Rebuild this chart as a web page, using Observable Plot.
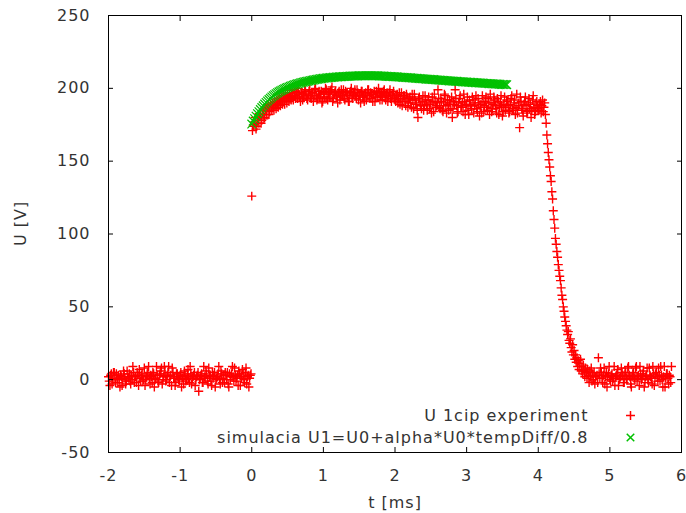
<!DOCTYPE html>
<html>
<head>
<meta charset="utf-8">
<script src="https://cdn.jsdelivr.net/npm/d3@7"></script>
<script src="https://cdn.jsdelivr.net/npm/@observablehq/plot@0.6"></script>
<style>
  html, body { margin: 0; padding: 0; background: #fff; }
  #chart { width: 686px; height: 513px; }
</style>
</head>
<body>
<div id="chart"></div>
<script>
// ---- axis ticks ----
const xTicks = [-2, -1, 0, 1, 2, 3, 4, 5, 6];
const yTicks = [-50, 0, 50, 100, 150, 200, 250];

// ---- legend labels ----
const seriesNames = ["U 1cip experiment", "simulacia U1=U0+alpha*U0*tempDiff/0.8"];

// ---- experiment (red +), sampled on a regular time grid ----
// baseline before the pulse, even samples: t = -2.00 .. -0.02, step 0.02 ms
const baseStart = -2.00, baseStep = 0.02;
const baseU = [
  2, -4, 4, 0, 5, -2, 1, 3, -5, 2,
  0, 4, -3, 6, 1, -1, 3, 9, -2, 2,
  5, -4, 1, 3, -1, 8, 0, 4, 9, -3,
  2, 5, -5, 1, 3, -2, 4, 8, 0, 9,
  -1, 3, 9, 2, -4, 5, 1, -2, 4, 0,
  3, -5, 2, 6, -1, 4, 1, 9, -3, 2,
  5, 0, 3, -8, 1, 4, -2, 2, 6, -1,
  8, 3, -4, 1, 5, 0, 2, 9, -3, 4,
  1, -2, 3, 5, -5, 0, 4, 2, 8, -1,
  3, 6, -4, 1, 4, -2, 8, 2, -5, 3
];
// baseline, odd samples: t = -1.99 .. -0.01, step 0.02 ms
const baseStart2 = -1.99;
const baseU2 = [
  -1, 3, -3, 5, 1, 4, -2, 0, 3, -4,
  6, 1, -1, 2, 4, -3, 0, 5, 2, -2,
  3, 7, -1, 4, 0, -4, 2, 5, 1, 3,
  -2, 4, 0, 9, -1, 3, 6, -3, 2, 4,
  0, 5, -2, 3, 8, 1, -4, 4, 2, -1,
  5, 1, -3, 3, 0, 7, -2, 4, 1, 3,
  -4, 2, 5, 0, 3, -2, 9, 1, 4, -3,
  2, -1, 5, 3, -5, 1, 4, 0, 6, -2,
  3, 5, 0, -3, 4, 2, 9, -1, 3, 1,
  -4, 4, 2, 7, 0, 5, -3, 3, 1, 4
];
// plateau, even samples: t = 0.00 .. 4.10, step 0.02 ms
const plateauStart = 0.00, plateauStep = 0.02;
const plateauU = [
  126,
  174, 177, 172, 179, 176, 182, 178, 185, 180, 184,
  187, 182, 189, 185, 188, 191, 186, 190, 193, 188,
  192, 195, 189, 193, 196, 191, 194, 197, 192, 195,
  198, 193, 196, 191, 197, 194, 199, 195, 192, 198,
  194, 197, 191, 199, 195, 193, 198, 196, 190, 197,
  194, 199, 192, 196, 198, 201, 193, 197, 195, 190,
  198, 194, 196, 199, 192, 197, 195, 191, 198, 194,
  196, 199, 193, 197, 195, 190, 198, 194, 196, 192,
  199, 195, 197, 193, 196, 191, 198, 194, 197, 195,
  192, 198, 194, 196, 191, 197, 193, 195, 198, 192,
  195, 190, 197, 193, 188, 195, 191, 196, 187, 193,
  190, 196, 186, 192, 189, 180, 194, 188, 191, 185,
  195, 189, 192, 186, 190, 194, 184, 191, 188, 199,
  187, 193, 185, 190, 195, 183, 189, 192, 186, 180,
  191, 199, 188, 184, 193, 187, 190, 196, 182, 189,
  185, 192, 188, 194, 183, 190, 186, 193, 181, 189,
  195, 184, 191, 187, 193, 182, 190, 186, 194, 188,
  183, 191, 187, 195, 181, 189, 185, 192, 188, 184,
  193, 186, 190, 182, 196, 188, 173, 191, 185, 189,
  194, 183, 190, 186, 180, 192, 187, 184, 191, 186,
  189, 183, 192, 187, 182
];
// plateau, odd samples: t = 0.01 .. 4.09, step 0.02 ms
const plateauStart2 = 0.01;
const plateauU2 = [
  171, 175, 180, 174, 178, 181, 176, 183, 179, 186,
  182, 188, 184, 187, 190, 185, 189, 192, 187, 191,
  194, 189, 192, 196, 190, 194, 197, 192, 195, 199,
  193, 196, 200, 194, 197, 192, 196, 198, 193, 196,
  199, 193, 197, 195, 200, 192, 196, 194, 198, 191,
  196, 200, 193, 197, 194, 199, 191, 196, 198, 194,
  197, 192, 199, 195, 193, 198, 196, 191, 197, 200,
  193, 197, 195, 199, 192, 196, 198, 194, 191, 197,
  195, 199, 193, 196, 191, 198, 194, 197, 200, 192,
  196, 194, 199, 192, 197, 195, 199, 191, 196, 194,
  191, 196, 193, 189, 197, 192, 195, 188, 194, 190,
  194, 187, 192, 196, 189, 185, 193, 190, 186, 195,
  188, 192, 185, 194, 189, 183, 191, 196, 187, 190,
  193, 186, 191, 184, 196, 188, 192, 185, 190, 194,
  186, 189, 193, 183, 190, 195, 187, 184, 191, 188,
  194, 182, 189, 186, 192, 188, 195, 184, 190, 187,
  183, 191, 188, 194, 185, 190, 196, 184, 189, 192,
  186, 193, 182, 190, 188, 184, 194, 187, 191, 183,
  189, 195, 185, 192, 187, 183, 190, 194, 186, 181,
  191, 188, 184, 193, 189, 185, 195, 182, 190, 188,
  185, 191, 188, 184, 190
];
// falling edge: t = 4.11 .. 4.80, step 0.01 ms
const fallStart = 4.11, fallStep = 0.01;
const fallU = [
  176, 168, 162, 156, 151, 146, 140, 136, 129, 124,
  116, 110, 104, 97, 93, 88, 84, 79, 75, 71,
  68, 63, 58, 55, 50, 47, 43, 40, 37, 34,
  31, 33, 27, 25, 28, 22, 19, 24, 17, 20,
  14, 17, 12, 15, 9, 13, 7, 11, 14, 6,
  9, 4, 10, 6, 2, 8, 5, 1, 7, 3,
  -2, 6, 2, 8, -1, 4, 0, 5, -3, 2
];
// tail after the pulse, even samples: t = 4.82 .. 5.86, step 0.02 ms
const tailStart = 4.82, tailStep = 0.02;
const tailU = [
  3, 15, 1, 5, -2, 8, 2, -5, 4, 0,
  3, -1, 9, 2, 4, -4, 1, 8, 3, -2,
  5, 0, 9, 2, -5, 4, 1, 8, -1, 3,
  9, 0, 4, -5, 2, 8, -2, 3, 1, 9,
  -4, 4, 2, 8, -1, 3, -5, 9, 1, 4,
  -3, 2, 9
];
// tail, odd samples: t = 4.83 .. 5.85, step 0.02 ms
const tailStart2 = 4.83;
const tailU2 = [
  -2, 4, 8, 1, 3, -3, 5, 2, 9, -1,
  4, 1, -4, 3, 7, 0, 2, 5, -2, 4,
  1, 8, 3, -3, 2, 5, 0, 9, 2, -4,
  4, 1, 6, -2, 3, 0, 8, 2, -3, 4,
  1, 5, -1, 3, 9, 0, 2, -5, 4, 1,
  3, -2
];

// ---- simulation (green x): t = 0.00 .. 3.56, step 0.02 ms ----
const simStart = 0.00, simStep = 0.02;
const simU = [
  175.5, 177.5, 179.2, 180.9, 182.6, 184.0, 185.4, 186.8, 188.0, 189.2,
  190.3, 191.3, 192.3, 193.2, 194.1, 194.9, 195.6, 196.3, 197.0, 197.6,
  198.2, 198.7, 199.2, 199.7, 200.2, 200.6, 201.0, 201.4, 201.8, 202.2,
  202.5, 202.8, 203.1, 203.4, 203.7, 204.0, 204.2, 204.5, 204.7, 204.9,
  205.1, 205.3, 205.5, 205.7, 205.9, 206.1, 206.3, 206.4, 206.6, 206.7,
  206.9, 207.0, 207.1, 207.2, 207.3, 207.4, 207.5, 207.6, 207.7, 207.8,
  207.8, 207.9, 208.0, 208.0, 208.1, 208.2, 208.2, 208.3, 208.3, 208.4,
  208.4, 208.4, 208.5, 208.5, 208.5, 208.6, 208.6, 208.6, 208.6, 208.6,
  208.7, 208.7, 208.7, 208.7, 208.6, 208.6, 208.6, 208.6, 208.6, 208.5,
  208.5, 208.4, 208.4, 208.3, 208.3, 208.2, 208.2, 208.1, 208.1, 208.0,
  207.9, 207.9, 207.8, 207.7, 207.7, 207.6, 207.5, 207.5, 207.4, 207.3,
  207.2, 207.2, 207.1, 207.0, 206.9, 206.9, 206.8, 206.7, 206.6, 206.6,
  206.5, 206.4, 206.3, 206.3, 206.2, 206.1, 206.0, 206.0, 205.9, 205.8,
  205.7, 205.7, 205.6, 205.5, 205.4, 205.4, 205.3, 205.2, 205.1, 205.1,
  205.0, 204.9, 204.8, 204.8, 204.7, 204.6, 204.6, 204.5, 204.4, 204.4,
  204.3, 204.2, 204.2, 204.1, 204.0, 204.0, 203.9, 203.8, 203.8, 203.7,
  203.6, 203.6, 203.5, 203.4, 203.4, 203.3, 203.2, 203.2, 203.1, 203.0,
  203.0, 202.9, 202.9, 202.8, 202.7, 202.7, 202.6, 202.6, 202.5
];

// build tables (time grid from start/step of each sampled segment)
const sampled = (start, step, values) => values.map((u, i) => ({t: start + i * step, u}));
const experiment = [
  ...sampled(baseStart, baseStep, baseU),
  ...sampled(baseStart2, baseStep, baseU2),
  ...sampled(plateauStart, plateauStep, plateauU),
  ...sampled(plateauStart2, plateauStep, plateauU2),
  ...sampled(fallStart, fallStep, fallU),
  ...sampled(tailStart, tailStep, tailU),
  ...sampled(tailStart2, tailStep, tailU2)
];
const simulation = sampled(simStart, simStep, simU);

const RED = "#ff0000", GREEN = "#00c000", TEXT = "#333333";
const FONT = "'DejaVu Sans', sans-serif";

const chart = Plot.plot({
  width: 686,
  height: 513,
  marginLeft: 108,
  marginRight: 5,
  marginTop: 15,
  marginBottom: 61,
  style: {fontFamily: FONT, fontSize: "16px", color: "black", background: "white", letterSpacing: "1px"},
  x: {domain: [-2, 6], type: "linear"},
  y: {domain: [-50, 250], type: "linear"},
  marks: [
    Plot.dot(experiment, {x: "t", y: "u", symbol: "plus", r: 3, stroke: RED, strokeWidth: 1.4}),
    Plot.dot(simulation, {x: "t", y: "u", symbol: "times", r: 4, stroke: GREEN, strokeWidth: 1.2}),
    Plot.frame({stroke: "black"}),
    Plot.axisX({ticks: xTicks, anchor: "bottom", tickSize: -5, tickPadding: 22, label: null,
      fill: TEXT, stroke: "black", tickFormat: d => String(d)}),
    Plot.axisX({ticks: xTicks, anchor: "top", tickSize: -5, label: null, stroke: "black", tickFormat: () => ""}),
    Plot.axisY({ticks: yTicks, anchor: "left", tickSize: -5, tickPadding: 23, label: null,
      fill: TEXT, stroke: "black", tickFormat: d => String(d)}),
    Plot.axisY({ticks: yTicks, anchor: "right", tickSize: -5, label: null, stroke: "black", tickFormat: () => ""}),
    // axis titles
    Plot.text(["t [ms]"], {frameAnchor: "bottom", lineAnchor: "middle", dy: 50, text: d => d, fill: TEXT, fontSize: 16}),
    Plot.text(["U [V]"], {frameAnchor: "left", lineAnchor: "middle", dx: -88, dy: 12, rotate: -90, text: d => d, fill: TEXT, fontSize: 16}),
    // legend
    Plot.text([seriesNames[0]], {frameAnchor: "bottom-right", lineAnchor: "middle", dx: -93, dy: -37, textAnchor: "end", text: d => d, fill: TEXT, fontSize: 16}),
    Plot.text([seriesNames[1]], {frameAnchor: "bottom-right", lineAnchor: "middle", dx: -93, dy: -15, textAnchor: "end", text: d => d, fill: TEXT, fontSize: 16}),
    Plot.dot([seriesNames[0]], {frameAnchor: "bottom-right", dx: -51, dy: -37, symbol: "plus", r: 3, stroke: RED}),
    Plot.dot([seriesNames[1]], {frameAnchor: "bottom-right", dx: -51, dy: -15, symbol: "times", r: 3.5, stroke: GREEN})
  ]
});
document.getElementById("chart").appendChild(chart);
</script>
</body>
</html>
